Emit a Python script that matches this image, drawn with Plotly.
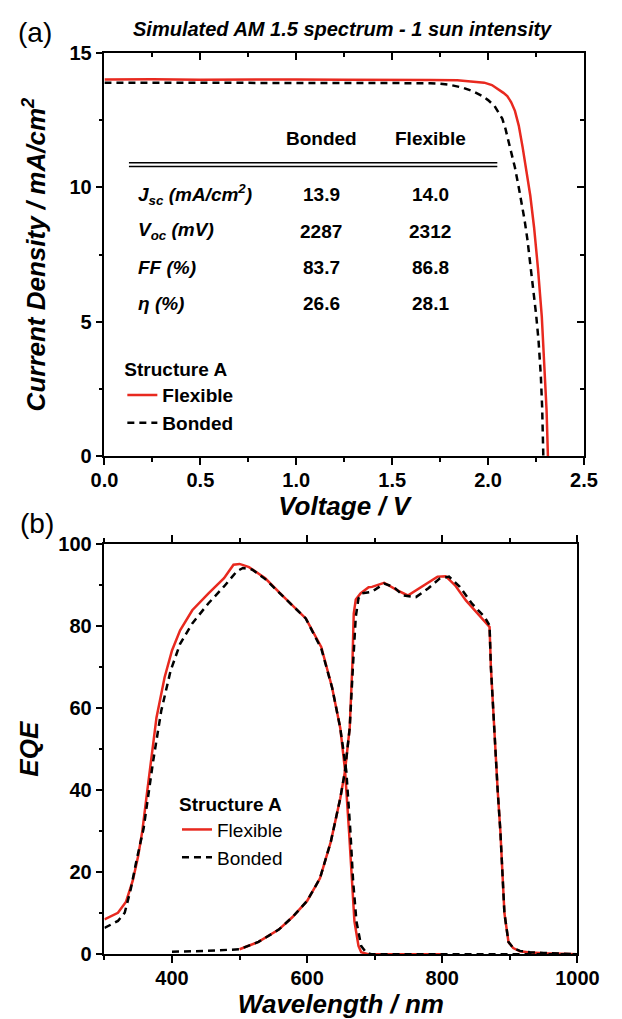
import plotly.graph_objects as go

W, H = 622, 1019
FONT = "Liberation Sans, Arial, Helvetica, sans-serif"
RED = "#e8291f"

# ---------------- Panel (a): J-V data ----------------
flex_v = [0.00, 0.25, 0.50, 0.75, 1.00, 1.25, 1.50, 1.70, 1.84, 1.93, 1.98, 2.02, 2.05,
          2.08, 2.10, 2.12, 2.14, 2.16, 2.18, 2.20, 2.22, 2.24, 2.26, 2.28, 2.295, 2.305, 2.312]
flex_j = [14.02, 14.03, 14.01, 14.02, 14.02, 14.01, 14.02, 14.00, 13.99, 13.95, 13.90, 13.81, 13.68,
          13.52, 13.40, 13.18, 12.85, 12.30, 11.50, 10.65, 9.70, 8.50, 7.00, 5.20, 3.30, 1.70, 0.00]

bond_v = [0.00, 0.25, 0.50, 0.75, 1.00, 1.25, 1.50, 1.60, 1.70, 1.75, 1.80, 1.87, 1.92, 1.968,
          2.00, 2.033, 2.06, 2.074, 2.09, 2.107, 2.12, 2.14, 2.16, 2.173, 2.19, 2.205, 2.22,
          2.238, 2.25, 2.263, 2.275, 2.282, 2.288]
bond_j = [13.90, 13.90, 13.90, 13.90, 13.90, 13.90, 13.90, 13.89, 13.88, 13.86, 13.82, 13.71, 13.58, 13.41,
          13.25, 13.04, 12.75, 12.56, 12.20, 11.71, 11.30, 10.74, 10.00, 9.53, 8.80, 8.07, 7.20,
          6.13, 5.30, 4.31, 3.00, 1.80, 0.00]

# Table of cell parameters
table_cols = ["Bonded", "Flexible"]
table_rows = ["J<sub>sc</sub> (mA/cm<sup>2</sup>)", "V<sub>oc</sub> (mV)", "FF (%)", "η (%)"]
table_bonded = ["13.9", "2287", "83.7", "26.6"]
table_flexible = ["14.0", "2312", "86.8", "28.1"]

# ---------------- Panel (b): EQE data ----------------
flex_top_wl = [300, 320, 332, 342, 350, 356, 362, 368, 377, 389, 400, 412, 430, 454, 477, 491, 500,
               514, 538, 565, 598, 621, 637, 649, 656, 662, 666, 670, 676, 680, 690, 800]
flex_top_eqe = [8.5, 10.1, 12.8, 18.0, 24.0, 30.0, 38.0, 46.0, 57.7, 67.5, 74.1, 79.0, 83.9, 88.0, 91.7, 95.0, 95.2,
                94.4, 91.7, 87.2, 81.9, 74.9, 65.0, 55.2, 45.0, 30.0, 18.0, 8.0, 2.0, 0.5, 0.0, 0.0]

bond_top_wl = [300, 320, 330, 339, 347, 358, 372, 384, 398, 412, 430, 454, 477, 496, 505, 519,
               538, 565, 598, 621, 637, 649, 658, 664, 668, 673, 680, 688, 695, 1000]
bond_top_eqe = [6.4, 8.1, 10.1, 15.9, 22.5, 30.7, 47.0, 59.3, 69.2, 75.7, 80.7, 85.6, 89.7, 93.4, 94.2, 93.8,
                91.5, 87.2, 81.9, 74.5, 65.0, 55.2, 44.6, 30.0, 18.0, 8.0, 2.0, 0.3, 0.0, 0.0]

flex_bot_wl = [500, 528, 558, 578, 600, 619, 635, 649, 656, 663, 667, 669, 672, 679, 691, 696, 714,
               733, 749, 770, 793, 805, 819, 835, 849, 870, 872, 875, 878, 882, 886, 889, 892,
               898, 905, 915, 930, 950, 1000]
flex_bot_eqe = [1.2, 3.0, 6.0, 9.0, 13.0, 18.5, 27.4, 38.0, 44.6, 55.2, 70.8, 83.1, 86.5, 88.0, 89.5, 89.6, 90.6,
                88.8, 87.5, 89.6, 92.1, 92.2, 90.0, 86.3, 83.8, 79.8, 70.0, 60.0, 50.0, 40.0, 30.0, 20.0, 10.0,
                3.0, 1.5, 0.7, 0.4, 0.2, 0.0]

bond_bot_wl = [400, 450, 500, 528, 558, 578, 600, 619, 635, 649, 656, 663, 668, 672, 676, 681, 696,
               714, 728, 742, 761, 779, 796, 810, 826, 844, 863, 870, 872, 875, 878, 882, 886, 889,
               892, 898, 905, 915, 930, 950, 1000]
bond_bot_eqe = [0.6, 0.8, 1.2, 3.0, 6.0, 9.0, 13.0, 18.5, 27.4, 38.0, 44.6, 55.2, 70.8, 82.3, 86.8, 88.0, 88.4,
                90.4, 89.6, 87.5, 87.1, 89.2, 91.6, 92.1, 89.6, 85.5, 82.2, 80.2, 70.0, 60.0, 50.0, 40.0, 30.0, 20.0,
                10.0, 3.0, 1.5, 0.8, 0.5, 0.3, 0.0]


def px(x):
    return x / W


def py(y):
    return 1 - y / H


red_line = dict(color=RED, width=2.5)
blk_line = dict(color="black", width=2.5, dash="7px,5px")

fig = go.Figure()
fig.add_trace(go.Scatter(x=flex_v, y=flex_j, mode="lines", line=red_line, name="Flexible",
                         legend="legend", xaxis="x", yaxis="y", hoverinfo="skip"))
fig.add_trace(go.Scatter(x=bond_v, y=bond_j, mode="lines", line=blk_line, name="Bonded",
                         legend="legend", xaxis="x", yaxis="y", hoverinfo="skip"))
# helper trace for the inner mirrored ticks of panel (a)
fig.add_trace(go.Scatter(x=flex_v, y=flex_j, mode="lines", line=dict(width=0, color="rgba(0,0,0,0)"),
                         showlegend=False, xaxis="x3", yaxis="y3", hoverinfo="skip"))

fig.add_trace(go.Scatter(x=flex_top_wl, y=flex_top_eqe, mode="lines", line=red_line, name="Flexible",
                         legend="legend2", xaxis="x2", yaxis="y2", hoverinfo="skip"))
fig.add_trace(go.Scatter(x=flex_bot_wl, y=flex_bot_eqe, mode="lines", line=red_line, showlegend=False,
                         xaxis="x2", yaxis="y2", hoverinfo="skip"))
fig.add_trace(go.Scatter(x=bond_top_wl, y=bond_top_eqe, mode="lines", line=blk_line, name="Bonded",
                         legend="legend2", xaxis="x2", yaxis="y2", hoverinfo="skip"))
fig.add_trace(go.Scatter(x=bond_bot_wl, y=bond_bot_eqe, mode="lines", line=blk_line, showlegend=False,
                         xaxis="x2", yaxis="y2", hoverinfo="skip"))

tickfont = dict(family=FONT, size=20, color="black", weight="bold")
titlefont = dict(family=FONT, size=26, color="black", weight="bold", style="italic")
base = dict(showgrid=False, zeroline=False, showline=True, linecolor="black", linewidth=1.5,
            ticks="outside", tickwidth=1.5, ticklen=7, tickcolor="black", tickfont=tickfont)


def minor(d, direction="outside"):
    return dict(dtick=d, ticklen=4, ticks=direction, tickwidth=1.5, tickcolor="black", showgrid=False)


dom_xa = [px(96), px(605)]
dom_ya = [py(455), py(43)]
dom_xb = [px(96), px(598)]
dom_yb = [py(964), py(545)]

fig.update_layout(
    width=W, height=H, autosize=False,
    margin=dict(l=0, r=0, t=0, b=0),
    paper_bgcolor="white", plot_bgcolor="white",
    font=dict(family=FONT, color="black"),
    xaxis=dict(domain=dom_xa, anchor="y", range=[0, 2.5], tick0=0, dtick=0.5, tickformat=".1f",
               minor=minor(0.25), mirror=True, ticklabelstandoff=-2,
               title=dict(text="Voltage / V", font=titlefont, standoff=7), **base),
    yaxis=dict(domain=dom_ya, anchor="x", range=[0, 15], tick0=0, dtick=5,
               minor=minor(2.5), mirror=True,
               title=dict(text="Current Density / mA/cm<sup>2</sup>", font=titlefont, standoff=16), **base),
    xaxis3=dict(overlaying="x", side="top", anchor="y", range=[0, 2.5], tick0=0, dtick=0.5,
                ticks="inside", ticklen=7, tickwidth=1.5, tickcolor="black", showticklabels=False,
                showline=False, showgrid=False, zeroline=False, minor=minor(0.25, "inside")),
    yaxis3=dict(overlaying="y", side="right", anchor="x", range=[0, 15], tick0=0, dtick=5,
                ticks="inside", ticklen=7, tickwidth=1.5, tickcolor="black", showticklabels=False,
                showline=False, showgrid=False, zeroline=False, minor=minor(2.5, "inside")),
    xaxis2=dict(domain=dom_xb, anchor="y2", range=[300, 1000], tick0=400, dtick=200,
                minor=minor(100), mirror="ticks", ticklabelstandoff=-2,
                title=dict(text="Wavelength / nm", font=titlefont, standoff=9), **base),
    yaxis2=dict(domain=dom_yb, anchor="x2", range=[0, 100], tick0=0, dtick=20,
                minor=minor(10), mirror=True,
                title=dict(text="EQE", font=titlefont, standoff=12), **base),
    legend=dict(x=px(115), y=py(348), xanchor="left", yanchor="top",
                bgcolor="rgba(0,0,0,0)", borderwidth=0, tracegroupgap=0,
                title=dict(text="Structure A", font=dict(family=FONT, size=19, weight="bold")),
                font=dict(family=FONT, size=19, weight="bold", color="black")),
    legend2=dict(x=px(173), y=py(792), xanchor="left", yanchor="top",
                 bgcolor="rgba(0,0,0,0)", borderwidth=0, tracegroupgap=0,
                 title=dict(text="Structure A", font=dict(family=FONT, size=19, weight="bold")),
                 font=dict(family=FONT, size=19, color="black")),
    showlegend=True,
)


def label(text, x, y, font, xanchor="center"):
    return dict(text=text, x=px(x), y=py(y), xref="paper", yref="paper", showarrow=False,
                xanchor=xanchor, yanchor="middle", font=font)


ann = []
ann.append(label("(a)", 22, 22, dict(family=FONT, size=28, color="black")))
ann.append(label("(b)", 24, 524, dict(family=FONT, size=28, color="black")))
ann.append(label("Simulated AM 1.5 spectrum - 1 sun intensity", 349, 18,
                 dict(family=FONT, size=20, color="black", weight="bold", style="italic")))

col_x = [326, 442]
row_y = [188, 225, 262, 299]
cell_font = dict(family=FONT, size=19, color="black", weight="bold")
row_font = dict(family=FONT, size=19, color="black", weight="bold", style="italic")
for cx, name in zip(col_x, table_cols):
    ann.append(label(name, cx, 130, cell_font))
for ry, lab, b, f in zip(row_y, table_rows, table_bonded, table_flexible):
    ann.append(label(lab, 130, ry, row_font, xanchor="left"))
    ann.append(label(b, col_x[0], ry, cell_font))
    ann.append(label(f, col_x[1], ry, cell_font))
fig.update_layout(annotations=ann)

shapes = []
for yy in (155, 159):
    shapes.append(dict(type="line", xref="paper", yref="paper", x0=px(122), x1=px(513), y0=py(yy), y1=py(yy),
                       line=dict(color="black", width=1.5)))
fig.update_layout(shapes=shapes)

fig.write_html("out.html", config={"displayModeBar": False},
               post_script="document.body.style.margin='0px';")
